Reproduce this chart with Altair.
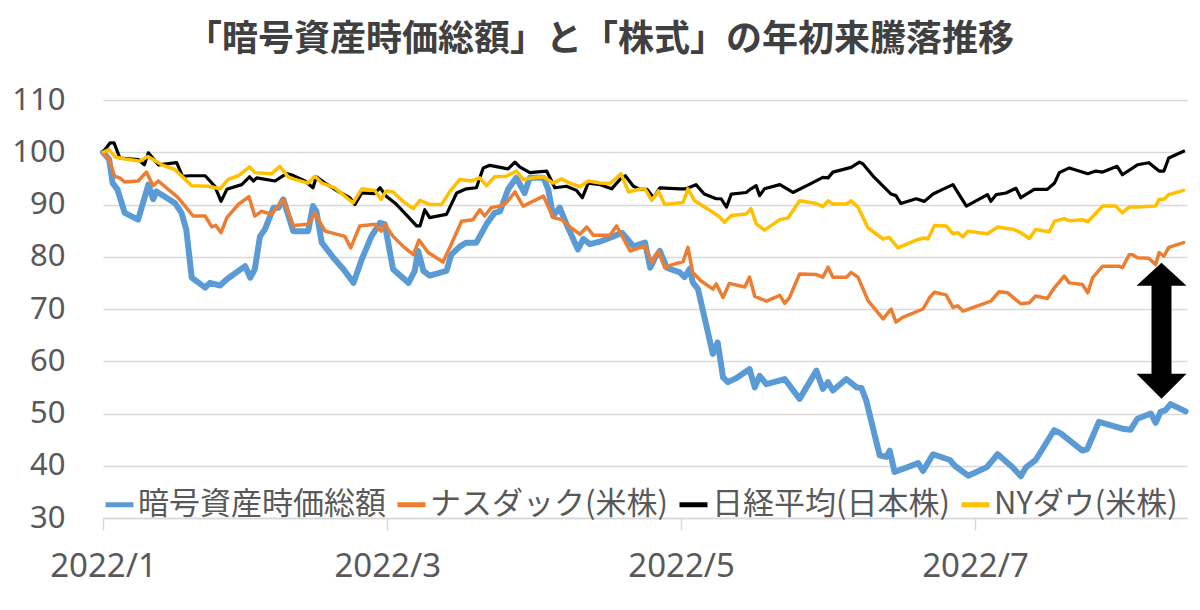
import altair as alt
import pandas as pd

# ---------------- data ----------------
series_names = ["暗号資産時価総額", "ナスダック(米株)", "日経平均(日本株)", "NYダウ(米株)"]
series_colors = ["#5B9BD5", "#ED7D31", "#000000", "#FFC000"]

# days since 2022-01-01, values indexed to 100 at start of year
crypto_days = [0, 1.3, 2, 3, 4.5, 7.3, 9.4, 10.4, 11.1, 14.9,
               16.3, 17.3, 18.4, 21.2, 22.2, 24.3, 25.7, 29.5, 30.6, 31.5,
               32.6, 33.6, 35.4, 36.4, 37.4, 39.5, 42.6, 43.6, 44.3, 45.4,
               48.1, 49.9, 52, 53.7, 55.7, 57.5, 58.5, 60.2, 63.4, 64.7,
               65.4, 66.5, 67.8, 71.3, 72.3, 74.1, 75.4, 77.5, 79.6, 81.3,
               82.4, 84.1, 85.8, 87.5, 88.6, 91.4, 92.4, 93.4, 94.8, 96.2,
               98.6, 99.7, 101.1, 103.5, 105.9, 107.7, 110.1, 112.5, 113.6, 114.6,
               115.6, 117, 119.7, 120.7, 121.8, 122.4, 123.5, 126.6, 127.6, 128.7,
               129.7, 131.5, 134.2, 135.3, 136.3, 137.7, 141.5, 144.6, 148.1, 149.4,
               150.5, 151.5, 154.3, 156.4, 157.4, 158.4, 161.2, 162.6, 163.3, 164.3,
               165.4, 169.2, 170.2, 172.3, 175.8, 176.8, 179.6, 183.4, 185.7, 188.8,
               190.5, 191.6, 193.6, 197.4, 198.8, 203.3, 204.3, 206.7, 211.6, 213.3,
               214.7, 217.5, 218.5, 219.5, 220.5, 221.6, 224.7]
crypto_vals = [100, 98.6, 94.1, 92.9, 88.4, 87.1, 93.8, 91, 92.5, 90.3,
               88.4, 85.2, 76, 74.1, 75, 74.5, 75.7, 78.2, 76, 77.6,
               83.9, 85.2, 89.4, 89.4, 91, 84.9, 84.9, 89.7, 88.7, 82.7,
               79.5, 77.6, 75, 79.5, 83.9, 86.5, 86.2, 77.6, 75, 77.3,
               81.1, 77.3, 76.4, 77.3, 80.4, 82, 82.7, 82.7, 86.2, 88.4,
               88.7, 92.9, 95.1, 92.2, 95.1, 95.1, 92.9, 87.8, 89.4, 86.2,
               81.4, 83.4, 82.4, 83, 83.9, 84.6, 82, 82.7, 77.9, 79.8,
               81.1, 77.9, 77, 76.1, 77.7, 75.1, 73.8, 61.4, 63.6, 56.9,
               56, 56.8, 58.5, 55, 57.2, 55.6, 56.6, 52.8, 58.2, 54.7,
               56, 54.4, 56.6, 55, 54.9, 52.5, 42, 41.7, 42.9, 38.8,
               39.2, 40.5, 39, 42.2, 41.1, 40, 38.1, 39.7, 42.2, 39.7,
               38, 39.7, 41.1, 46.8, 46.2, 42.9, 43.2, 48.4, 47.1, 46.9,
               49, 50, 48.2, 50.3, 50.6, 51.8, 50.4]

nasdaq_days = [0, 1.3, 2.4, 3.5, 4.5, 7.3, 9.0, 10.4, 11.5, 15.6,
               17.3, 18.7, 21.2, 22.6, 23.4, 24.5, 25.7, 28.1, 30.3, 31.5,
               32.9, 35, 37.4, 39.5, 42.6, 44, 46.1, 50.2, 51.4, 53.3,
               56.4, 57.7, 58.5, 60.2, 62.3, 64.4, 65.6, 67.5, 70.6, 72.3,
               74.4, 76.8, 78.2, 79.2, 80.6, 82.4, 83.7, 85.5, 87.2, 88.6,
               91.4, 93.4, 95.2, 97.2, 99, 100.4, 101.8, 105.2, 106.6, 109.4,
               112.5, 113.9, 115.3, 116.6, 117.6, 120.4, 121.4, 122.4, 124.1, 126.6,
               127.3, 128.7, 130, 133.2, 134.2, 135.3, 137.7, 140.5, 141.5, 142.5,
               144.6, 148.1, 149.4, 150.5, 151.5, 154.3, 155.3, 156.7, 158.8, 161.9,
               163.6, 164.6, 166, 170.2, 171.6, 172.6, 175, 176.4, 177.4, 178.5,
               184.3, 186, 187.8, 190.5, 192.3, 193.6, 196, 197.5, 199.5, 200.6,
               203.3, 204.4, 205.4, 207.5, 210.9, 211.6, 213, 213.7, 214.7, 217.1,
               218.5, 219.2, 220.2, 221.2, 224.3]
nasdaq_vals = [100, 98.6, 95.4, 95.1, 94.3, 94.5, 96.2, 93.6, 94.5, 91.3,
               89.4, 87.8, 87.8, 85.7, 86, 84.6, 87.5, 90, 91.5, 87.8,
               88.7, 88.1, 91, 86, 86.2, 88.4, 84.9, 83.9, 81.7, 85.9,
               86.2, 84.9, 86.2, 83.9, 82, 80.4, 83.2, 80.8, 79, 82.4,
               86.8, 87.1, 89, 87.8, 89.4, 89.7, 90.3, 92.4, 89.7, 90.3,
               91.6, 87.5, 87.1, 85.5, 84.3, 85.7, 84.1, 84.1, 85.9, 81.1,
               82.1, 78.9, 81.1, 77.9, 78.3, 79.1, 81.8, 77, 75.4, 73.8,
               74.8, 72.2, 74.9, 74.2, 76.1, 72.4, 71.5, 72.6, 71.1, 72.2,
               76.7, 76.6, 76.1, 78, 76.1, 76.1, 77, 76.1, 71.6, 68.1,
               70, 67.5, 68.4, 70, 72.2, 73.2, 72.7, 70.3, 70.6, 69.6,
               71.5, 73.3, 73.1, 71, 71.2, 72.5, 72, 74.1, 76.3, 75,
               74.7, 73.1, 76, 78.2, 78.2, 77.9, 80.4, 80.4, 79.8, 79.7,
               78.5, 80.8, 80.1, 81.8, 82.7]

nikkei_days = [0, 1.5, 2.3, 3.5, 7.3, 8.6, 9.4, 11.5, 15.3, 16.5,
               18, 21.2, 23.2, 24.5, 25.7, 28.8, 30.4, 31.2, 31.9, 35.7,
               38.1, 39.1, 41.9, 43.6, 44.3, 46.1, 48.8, 51.2, 52.3, 53.7,
               56.4, 57.5, 58.8, 60.6, 62.6, 65.1, 65.8, 66.8, 67.8, 71.3,
               73.4, 75.4, 77.5, 78.9, 80.3, 83, 84.1, 85.5, 86.5, 88.6,
               92.1, 93.8, 96.2, 98.3, 99.5, 100.7, 103.2, 105.6, 107.3, 108.4,
               110.1, 111.5, 112.9, 114.3, 115.6, 119.8, 121.1, 123.1, 124.8, 127.3,
               128.3, 129.4, 130.4, 133.5, 134.5, 135.6, 136.3, 137.3, 140.5, 143.2,
               146.7, 149.4, 150.5, 151.5, 155.3, 157, 157.7, 159.8, 163.6, 164.6,
               165.6, 168.8, 170.5, 172.3, 174.3, 176.4, 179.2, 183.6, 184.3, 185.4,
               187.4, 189.5, 190.5, 193.3, 196, 197.5, 198.5, 200.6, 204.4, 206.1,
               207.5, 210.5, 211.6, 214.7, 217.1, 219.2, 220.2, 221.2, 224.3]
nikkei_vals = [100, 101.8, 101.8, 98.9, 98.6, 97.6, 99.9, 97.6, 98, 95.4,
               95.5, 95.5, 93.5, 90.6, 92.9, 93.8, 95.3, 94.5, 95.1, 94.5,
               95.9, 95.7, 94.5, 93.2, 95.3, 94.1, 92.5, 91.3, 90, 92.2,
               92.1, 93.2, 91.6, 90.3, 88.4, 85.9, 85.9, 89, 87.5, 88.1,
               92.2, 93, 93.2, 97, 97.5, 97, 96.8, 98.1, 97.2, 96.1,
               96.4, 93.2, 93.5, 92.7, 91.3, 94.1, 93.8, 93, 94.8, 95.5,
               93.5, 92.9, 92.9, 91.3, 93.2, 93, 93, 93.8, 92, 91.1,
               91.1, 89.5, 92, 92.3, 93, 93.6, 91.7, 93, 93.8, 92.3,
               93.9, 95.2, 95.1, 96.2, 97.1, 98.1, 97.8, 95.5, 92, 91.7,
               90.2, 91.1, 90.6, 92, 92.9, 93.8, 89.7, 91.9, 90.6, 91.9,
               92.2, 93.1, 91.3, 92.9, 92.9, 94.1, 96.1, 97, 95.9, 96.4,
               96.2, 97.3, 95.7, 97.6, 98, 96.4, 96.4, 98.9, 100.2]

dow_days = [0, 1.2, 2.5, 4.6, 7.7, 9.3, 10.4, 12.2, 14.9, 16.7,
            18.4, 21.9, 24.3, 26, 28.1, 30.4, 31.5, 35, 36.7, 38.4,
            39.8, 42.6, 44, 45.4, 48.1, 51.9, 53.7, 56.4, 57.7, 58.8,
            60.2, 62.3, 64.4, 65.8, 67.8, 70.3, 72, 74.1, 76.5, 78.2,
            79.6, 81.3, 83.7, 85.8, 87.2, 89.3, 91.4, 93.4, 95.2, 96.9,
            99, 100.7, 103.2, 105.2, 106.6, 107.5, 109.1, 111.2, 112.5, 113.9,
            115.3, 116.6, 120.4, 121.4, 122.8, 126.6, 128, 129, 130.4, 133.5,
            134.5, 135.6, 137.3, 140.5, 142.2, 144.6, 148.1, 149.4, 150.5, 151.5,
            154.3, 155.3, 156.7, 158.8, 161.9, 163.2, 165, 168.8, 170.5, 171.2,
            172.6, 175, 176.4, 177.4, 178.5, 179.5, 183.6, 185.7, 189.1, 190.5,
            192.3, 193.6, 196.4, 197.5, 199.5, 200.6, 203.3, 204.4, 207.5, 210.2,
            211.6, 213, 214.7, 218.5, 219.2, 220.2, 221.2, 224.3]
dow_vals = [100, 100.5, 99.1, 98.7, 98.3, 99.2, 98.6, 97.6, 96.7, 95.1,
            93.6, 93.5, 93, 94.8, 95.5, 97.2, 96.1, 95.9, 97.3, 95.3,
            94.8, 94.1, 95.4, 94.1, 93.2, 90.3, 93, 92.7, 91, 92.6,
            92.4, 90.6, 89.2, 90.8, 90, 90, 92.5, 94.8, 94.5, 95.1,
            93.6, 95.3, 95.4, 96.4, 94.8, 95.1, 95.3, 94.1, 94.9, 94.1,
            93.4, 94.5, 94.1, 94, 95.1, 95.9, 92.4, 92.9, 93, 90.8,
            92.6, 90, 90.4, 93, 90.7, 88.5, 87.6, 86.6, 87.9, 88.2,
            89.2, 86.3, 85.1, 87.1, 87.4, 90.7, 90.2, 89.6, 90.7, 90.1,
            90.1, 90.7, 89.5, 85.5, 83.4, 83.7, 81.7, 83.2, 83.6, 83.4,
            86, 85.9, 84.4, 84.6, 83.8, 84.9, 84.4, 85.7, 85.2, 84.6,
            83.5, 85.2, 84.8, 86.8, 87.3, 86.9, 87.1, 86.7, 89.7, 89.7,
            88.4, 89.5, 89.5, 89.7, 91, 91, 91.9, 92.7]

y_ticks = [30, 40, 50, 60, 70, 80, 90, 100, 110]
x_tick_months = [1, 3, 5, 7]

# annotation arrow (double-headed) between Nasdaq and crypto at the right end
arrow_day = 219.7
arrow_shaft = [75, 57]          # top / bottom of the shaft (value units)
arrow_heads = [76.65, 55.2]     # centres of the up / down heads

title_text = "「暗号資産時価総額」と「株式」の年初来騰落推移"

# ---------------- build table ----------------
base_date = pd.Timestamp("2022-01-01")


def to_dates(days):
    return [base_date + pd.Timedelta(hours=round(d * 24)) for d in days]


frames = []
for name, days, vals in [
    (series_names[0], crypto_days, crypto_vals),
    (series_names[1], nasdaq_days, nasdaq_vals),
    (series_names[2], nikkei_days, nikkei_vals),
    (series_names[3], dow_days, dow_vals),
]:
    frames.append(pd.DataFrame({"series": name, "date": to_dates(days), "value": vals}))
df = pd.concat(frames, ignore_index=True)

arrow_date = to_dates([arrow_day])[0]
shaft_df = pd.DataFrame({"date": [arrow_date], "top": [arrow_shaft[0]], "bottom": [arrow_shaft[1]]})
up_df = pd.DataFrame({"date": [arrow_date], "value": [arrow_heads[0]]})
down_df = pd.DataFrame({"date": [arrow_date], "value": [arrow_heads[1]]})

# ---------------- encodings ----------------
GRID = "#d9d9d9"
TXT = "#595959"

x_enc = alt.X(
    "date:T",
    scale=alt.Scale(domain=[alt.DateTime(year=2022, month=1, date=1),
                            alt.DateTime(year=2022, month=8, date=14)]),
    axis=alt.Axis(
        title=None,
        values=[alt.DateTime(year=2022, month=m, date=1) for m in x_tick_months],
        labelExpr="timeFormat(datum.value, '%Y') + '/' + (month(datum.value) + 1)",
        grid=False,
        domain=True, domainColor=GRID, domainWidth=1.5,
        ticks=True, tickSize=12, tickColor=GRID, tickWidth=1.5,
        labelFontSize=33, labelColor=TXT, labelFont="Noto Sans",
        labelPadding=20, labelFlush=False, labelOverlap=False,
    ),
)
y_enc = alt.Y(
    "value:Q",
    scale=alt.Scale(domain=[30, 110], nice=False, zero=False),
    axis=alt.Axis(
        title=None, values=y_ticks,
        domain=False, ticks=False,
        grid=True, gridColor=GRID, gridWidth=1.5,
        labelFontSize=31, labelColor=TXT, labelFont="Noto Sans",
        labelPadding=38,
    ),
)

legend = alt.Legend(
    title=None, orient="none", legendX=0, legendY=388,
    direction="horizontal", columns=4,
    symbolType="stroke", symbolSize=784, symbolStrokeWidth=5,
    labelFontSize=31, labelFont="Noto Sans CJK JP", labelColor=TXT,
    labelLimit=600, labelOffset=2, columnPadding=1, padding=0,
)
color_enc = alt.Color("series:N", scale=alt.Scale(domain=series_names, range=series_colors),
                      legend=legend)

line_widths = {series_names[0]: 6, series_names[1]: 3.5, series_names[2]: 3.2, series_names[3]: 3.5}

layers = []
for name in series_names:
    layers.append(
        alt.Chart(df)
        .transform_filter(alt.datum.series == name)
        .mark_line(strokeWidth=line_widths[name], strokeJoin="round", strokeCap="round")
        .encode(x=x_enc, y=y_enc, color=color_enc)
    )

shaft = alt.Chart(shaft_df).mark_rule(color="black", strokeWidth=20).encode(
    x="date:T", y="top:Q", y2="bottom:Q")
up_head = alt.Chart(up_df).mark_point(
    shape="M0,-0.46L1,0.46L-1,0.46Z", size=2500, filled=True, color="black", opacity=1,
    strokeWidth=0).encode(x="date:T", y="value:Q")
down_head = alt.Chart(down_df).mark_point(
    shape="M0,0.5L1,-0.5L-1,-0.5Z", size=2500, filled=True, color="black", opacity=1,
    strokeWidth=0).encode(x="date:T", y="value:Q")

chart = (
    alt.layer(*layers, shaft, up_head, down_head)
    .properties(
        width=1084, height=418,
        autosize=alt.AutoSizeParams(type="none"),
        padding={"left": 95, "top": 92, "right": 5, "bottom": 84},
        background="white",
        title=alt.TitleParams(
            title_text, fontSize=36, font="Noto Sans CJK JP", fontWeight="bold",
            color="#404040", anchor="middle", frame="group", dx=-45, offset=-3,
            baseline="alphabetic",
        ),
    )
    .configure_view(stroke=None)
)

chart.save("out.html", embed_options={"renderer": "svg", "actions": False})
